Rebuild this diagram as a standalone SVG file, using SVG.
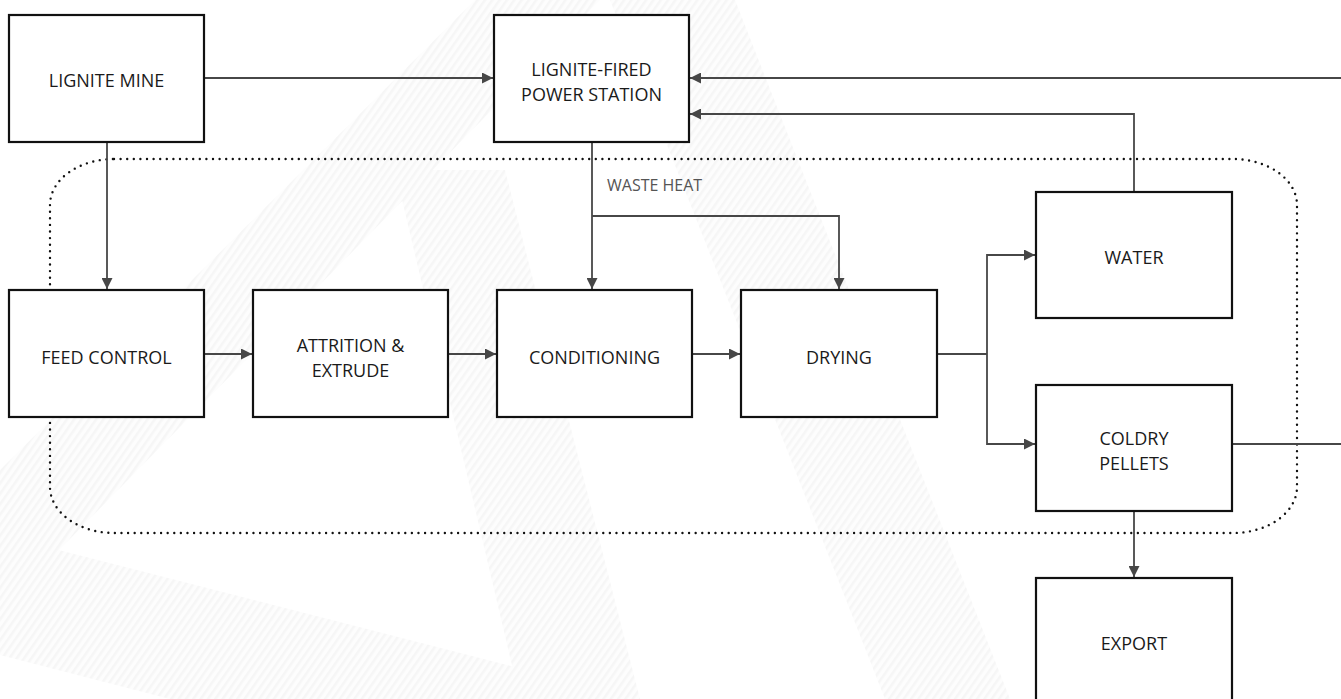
<svg xmlns="http://www.w3.org/2000/svg" width="1341" height="699" viewBox="0 0 1341 699">
  <style>
    .box { fill: #ffffff; stroke: #111111; stroke-width: 2.2; }
    .lbl { font-family: "Open Sans", "Noto Sans", "Liberation Sans", sans-serif; font-size: 18px; fill: #1a1a1a; text-anchor: middle; }
    .note { font-family: "Open Sans", "Noto Sans", "Liberation Sans", sans-serif; font-size: 16px; fill: #555555; }
    .conn { fill: none; stroke: #474747; stroke-width: 1.8; }
    .arrow { marker-end: url(#ah); }
    .dots { fill: none; stroke: #111111; stroke-width: 2.4; stroke-dasharray: 0 6.6; stroke-linecap: round; }
    .wm { fill: url(#stripes); }
  </style>
  <defs>
    <marker id="ah" viewBox="0 0 10 10" refX="10" refY="5" markerWidth="11" markerHeight="11" markerUnits="userSpaceOnUse" orient="auto">
      <path d="M0,0 L10,5 L0,10 z" fill="#474747"/>
    </marker>
    <pattern id="stripes" width="6" height="6" patternUnits="userSpaceOnUse" patternTransform="rotate(35)">
      <rect width="6" height="6" fill="#fdfdfd"/>
      <rect width="2.5" height="6" fill="#f6f6f6"/>
    </pattern>
  </defs>
  <rect width="1341" height="699" fill="#ffffff"/>

  <g id="watermark">
    <polygon class="wm" points="475,0 600,0 0,610 0,470"/>
    <polygon class="wm" points="610,0 735,0 1010,699 885,699"/>
    <polygon class="wm" points="395,170 505,170 640,699 520,699"/>
    <polygon class="wm" points="0,535 640,699 170,699 0,655"/>
  </g>

  <g id="boundary">
    <rect class="dots" x="50" y="159" width="1247" height="374" rx="64" ry="46"/>
  </g>

  <g id="connectors">
    <line class="conn arrow" x1="205" y1="78" x2="493" y2="78"/>
    <line class="conn arrow" x1="1341" y1="78" x2="690" y2="78"/>
    <polyline class="conn arrow" points="1134,192 1134,114 690,114"/>
    <line class="conn arrow" x1="107" y1="143" x2="107" y2="289"/>
    <line class="conn arrow" x1="592" y1="143" x2="592" y2="289"/>
    <polyline class="conn arrow" points="592,216 839,216 839,289"/>
    <line class="conn arrow" x1="205" y1="354" x2="252" y2="354"/>
    <line class="conn arrow" x1="449" y1="354" x2="496" y2="354"/>
    <line class="conn arrow" x1="693" y1="354" x2="740" y2="354"/>
    <polyline class="conn" points="938,354 987,354"/>
    <polyline class="conn arrow" points="987,354 987,255 1035,255"/>
    <polyline class="conn arrow" points="987,354 987,444 1035,444"/>
    <line class="conn" x1="1233" y1="444" x2="1341" y2="444"/>
    <line class="conn arrow" x1="1134" y1="512" x2="1134" y2="577"/>
  </g>

  <g id="lignite-mine">
    <rect class="box" x="9" y="15" width="195" height="127"/>
    <text class="lbl" x="106.5" y="87">LIGNITE MINE</text>
  </g>
  <g id="power-station">
    <rect class="box" x="494" y="15" width="195" height="127"/>
    <text class="lbl" x="591.5" y="76">LIGNITE-FIRED</text>
    <text class="lbl" x="591.5" y="101">POWER STATION</text>
  </g>
  <g id="waste-heat-label">
    <text class="note" x="607" y="191">WASTE HEAT</text>
  </g>
  <g id="feed-control">
    <rect class="box" x="9" y="290" width="195" height="127"/>
    <text class="lbl" x="106.5" y="364">FEED CONTROL</text>
  </g>
  <g id="attrition">
    <rect class="box" x="253" y="290" width="195" height="127"/>
    <text class="lbl" x="350.5" y="352">ATTRITION &amp;</text>
    <text class="lbl" x="350.5" y="377">EXTRUDE</text>
  </g>
  <g id="conditioning">
    <rect class="box" x="497" y="290" width="195" height="127"/>
    <text class="lbl" x="594.5" y="364">CONDITIONING</text>
  </g>
  <g id="drying">
    <rect class="box" x="741" y="290" width="196" height="127"/>
    <text class="lbl" x="839" y="364">DRYING</text>
  </g>
  <g id="water">
    <rect class="box" x="1036" y="192" width="196" height="126"/>
    <text class="lbl" x="1134" y="264">WATER</text>
  </g>
  <g id="coldry-pellets">
    <rect class="box" x="1036" y="385" width="196" height="126"/>
    <text class="lbl" x="1134" y="445">COLDRY</text>
    <text class="lbl" x="1134" y="470">PELLETS</text>
  </g>
  <g id="export">
    <rect class="box" x="1036" y="578" width="196" height="128"/>
    <text class="lbl" x="1134" y="650">EXPORT</text>
  </g>
</svg>
